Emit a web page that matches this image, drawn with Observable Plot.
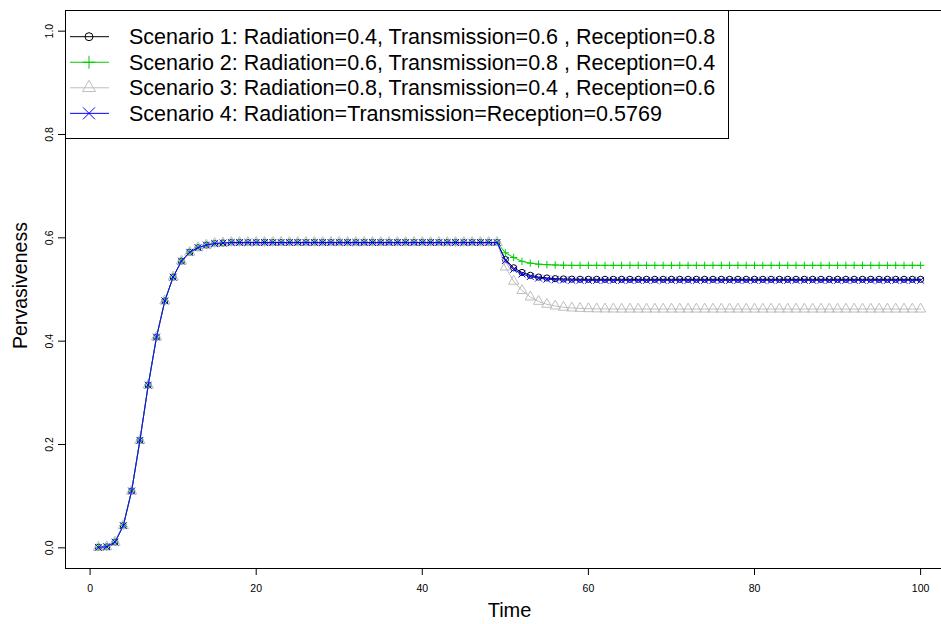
<!DOCTYPE html>
<html>
<head>
<meta charset="utf-8">
<script src="https://cdn.jsdelivr.net/npm/d3@7"></script>
<script src="https://cdn.jsdelivr.net/npm/@observablehq/plot@0.6"></script>
<style>
  html, body { margin: 0; padding: 0; background: #fff; }
  #wrap { position: relative; width: 941px; height: 624px; overflow: hidden; font-family: "Liberation Sans", Arial, sans-serif; }
  #legend { position: absolute; left: 0; top: 0; pointer-events: none; }
</style>
</head>
<body>
<div id="wrap"></div>
<script>
// ---- data ----
const scenarioNames = [
  "Scenario 1: Radiation=0.4, Transmission=0.6 , Reception=0.8",
  "Scenario 2: Radiation=0.6, Transmission=0.8 , Reception=0.4",
  "Scenario 3: Radiation=0.8, Transmission=0.4 , Reception=0.6",
  "Scenario 4: Radiation=Transmission=Reception=0.5769"
];
const scenarioColors = ["#000000", "#00CC00", "#BEBEBE", "#0000FF"];
const scenarioSymbols = ["circle", "plus", "triangle", "times"];
const scenarioRadius = [3.1, 2.5, 3.8, 3.2];
const legendSymbolSize = [50, 57, 121, 95];

const time = d3.range(1, 101);

// shared rise, t = 1..49 (all four scenarios coincide)
const rise = [0.001, 0.002, 0.011, 0.043, 0.110, 0.208, 0.315, 0.408, 0.478, 0.524,
  0.555, 0.572, 0.581, 0.586, 0.589, 0.590, 0.591, 0.591, 0.591, 0.591,
  0.591, 0.591, 0.591, 0.591, 0.591, 0.591, 0.591, 0.591, 0.591, 0.591,
  0.591, 0.591, 0.591, 0.591, 0.591, 0.591, 0.591, 0.591, 0.591, 0.591,
  0.591, 0.591, 0.591, 0.591, 0.591, 0.591, 0.591, 0.591, 0.591];

// tails, t = 50..100
const tail1 = [0.558, 0.542, 0.533, 0.5275, 0.524, 0.5223, 0.521, 0.5204, 0.5200, 0.5198,
  0.5197, 0.5197, 0.5197, 0.5197, 0.5197, 0.5197, 0.5197, 0.5197, 0.5197, 0.5197,
  0.5197, 0.5197, 0.5197, 0.5197, 0.5197, 0.5197, 0.5197, 0.5197, 0.5197, 0.5197,
  0.5197, 0.5197, 0.5197, 0.5197, 0.5197, 0.5197, 0.5197, 0.5197, 0.5197, 0.5197,
  0.5197, 0.5197, 0.5197, 0.5197, 0.5197, 0.5197, 0.5197, 0.5197, 0.5197, 0.5197, 0.5197];
const tail2 = [0.571, 0.562, 0.5545, 0.551, 0.549, 0.548, 0.5474, 0.5470, 0.5468, 0.5468,
  0.5468, 0.5468, 0.5468, 0.5468, 0.5468, 0.5468, 0.5468, 0.5468, 0.5468, 0.5468,
  0.5468, 0.5468, 0.5468, 0.5468, 0.5468, 0.5468, 0.5468, 0.5468, 0.5468, 0.5468,
  0.5468, 0.5468, 0.5468, 0.5468, 0.5468, 0.5468, 0.5468, 0.5468, 0.5468, 0.5468,
  0.5468, 0.5468, 0.5468, 0.5468, 0.5468, 0.5468, 0.5468, 0.5468, 0.5468, 0.5468, 0.5468];
const tail3 = [0.5435, 0.516, 0.498, 0.4855, 0.477, 0.4713, 0.468, 0.4656, 0.4642, 0.4634,
  0.4628, 0.4625, 0.4623, 0.4622, 0.4621, 0.4621, 0.4621, 0.4621, 0.4621, 0.4621,
  0.4621, 0.4621, 0.4621, 0.4621, 0.4621, 0.4621, 0.4621, 0.4621, 0.4621, 0.4621,
  0.4621, 0.4621, 0.4621, 0.4621, 0.4621, 0.4621, 0.4621, 0.4621, 0.4621, 0.4621,
  0.4621, 0.4621, 0.4621, 0.4621, 0.4621, 0.4621, 0.4621, 0.4621, 0.4621, 0.4621, 0.4621];
const tail4 = [0.556, 0.539, 0.530, 0.525, 0.522, 0.520, 0.519, 0.5183, 0.5180, 0.5178,
  0.5177, 0.5177, 0.5177, 0.5177, 0.5177, 0.5177, 0.5177, 0.5177, 0.5177, 0.5177,
  0.5177, 0.5177, 0.5177, 0.5177, 0.5177, 0.5177, 0.5177, 0.5177, 0.5177, 0.5177,
  0.5177, 0.5177, 0.5177, 0.5177, 0.5177, 0.5177, 0.5177, 0.5177, 0.5177, 0.5177,
  0.5177, 0.5177, 0.5177, 0.5177, 0.5177, 0.5177, 0.5177, 0.5177, 0.5177, 0.5177, 0.5177];

const xTicks = [0, 20, 40, 60, 80, 100];
const yTicks = [0, 0.2, 0.4, 0.6, 0.8, 1.0];
const xLabel = "Time";
const yLabel = "Pervasiveness";

// ---- build series ----
const tails = [tail1, tail2, tail3, tail4];
const series = tails.map((tail, i) => {
  const vals = rise.concat(tail);
  return time.map((t, j) => ({t, v: vals[j], s: i}));
});

const font = "'Liberation Sans', Arial, Helvetica, sans-serif";

const marks = [];
series.forEach((data, i) => {
  marks.push(Plot.line(data, {x: "t", y: "v", stroke: scenarioColors[i], strokeWidth: 1}));
  marks.push(Plot.dot(data, {x: "t", y: "v", stroke: scenarioColors[i], fill: "none",
    symbol: scenarioSymbols[i], r: scenarioRadius[i], strokeWidth: 1}));
});

const chart = Plot.plot({
  width: 941,
  height: 624,
  marginLeft: 65,
  marginRight: -12,
  marginTop: 10,
  marginBottom: 56,
  style: {fontFamily: font, background: "#fff", color: "#000"},
  x: {domain: [-2.96, 103.96]},
  y: {domain: [-0.04, 1.04]},
  marks: [
    Plot.frame({stroke: "#000", strokeWidth: 1}),
    Plot.axisX({ticks: xTicks, tickSize: 7, tickPadding: 9, fontSize: 10.5, label: null, tickFormat: d3.format("d")}),
    Plot.axisY({ticks: yTicks, tickSize: 7, tickFormat: () => "", label: null}),
    Plot.text(yTicks, {y: d => d, frameAnchor: "left", dx: -13, rotate: -90,
      text: d => d3.format(".1f")(d), textAnchor: "middle", lineAnchor: "bottom", fontSize: 10.5}),
    Plot.text([xLabel], {text: d => d, frameAnchor: "bottom", dy: 48, lineAnchor: "bottom", fontSize: 20}),
    Plot.text([yLabel], {text: d => d, frameAnchor: "left", dx: -39, dy: -4, rotate: -90,
      lineAnchor: "bottom", textAnchor: "middle", fontSize: 19.5}),
    ...marks
  ]
});

const wrap = document.getElementById("wrap");
wrap.appendChild(chart);

// ---- legend overlay (R-style box in the top-left corner) ----
const lg = d3.select(wrap).append("svg")
  .attr("id", "legend").attr("width", 941).attr("height", 624);
const box = {x: 65.5, y: 10.5, w: 663, h: 128};
lg.append("rect").attr("x", box.x).attr("y", box.y).attr("width", box.w).attr("height", box.h)
  .attr("fill", "#fff").attr("stroke", "#000").attr("stroke-width", 1);
scenarioNames.forEach((name, i) => {
  const cy = 36.7 + i * 25.55;
  const g = lg.append("g");
  g.append("line").attr("x1", 70).attr("x2", 109).attr("y1", cy).attr("y2", cy)
    .attr("stroke", scenarioColors[i]).attr("stroke-width", 1);
  const sym = {circle: d3.symbolCircle, plus: d3.symbolPlus, triangle: d3.symbolTriangle2, times: d3.symbolTimes}[scenarioSymbols[i]];
  g.append("path").attr("transform", `translate(89,${cy})`)
    .attr("d", d3.symbol(sym, legendSymbolSize[i])())
    .attr("fill", "none").attr("stroke", scenarioColors[i]).attr("stroke-width", 1);
  g.append("text").attr("x", 129).attr("y", cy + 7.6)
    .attr("font-family", font).attr("font-size", 21.5).attr("fill", "#000").text(name);
});
</script>
</body>
</html>
